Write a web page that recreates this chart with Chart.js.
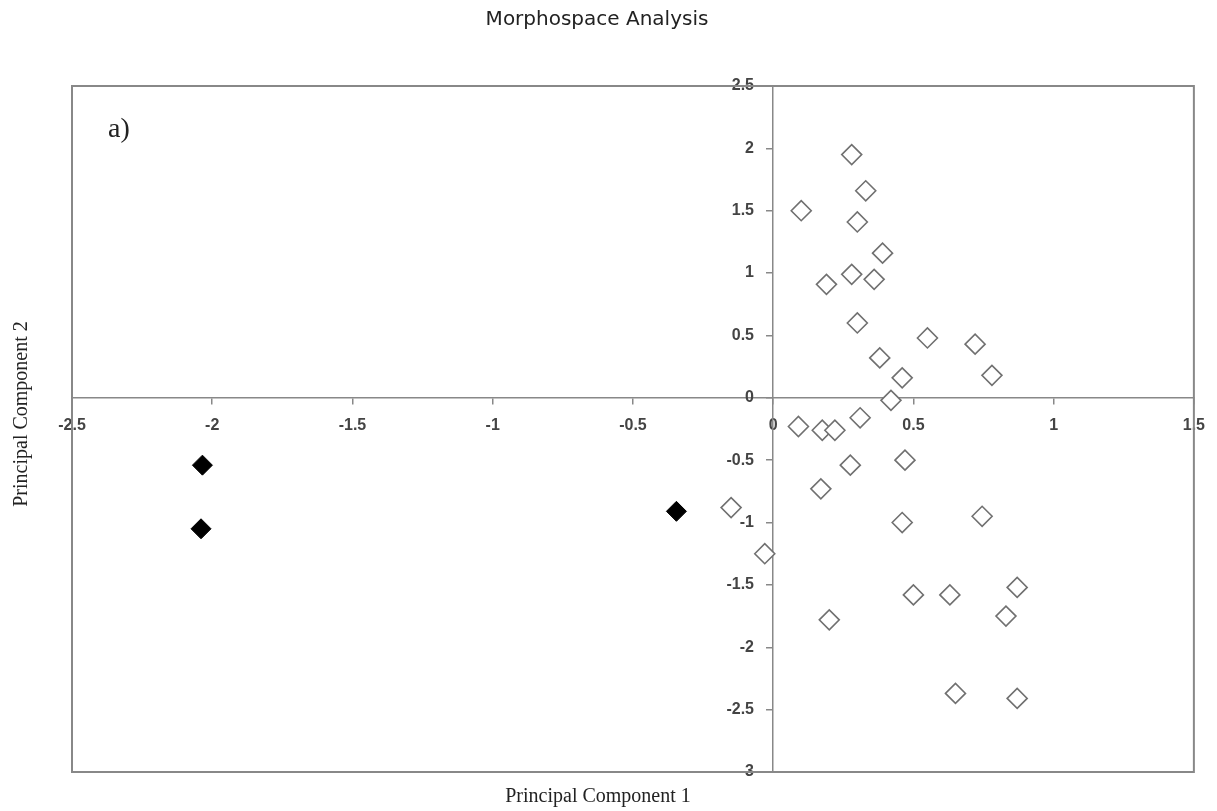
<!DOCTYPE html>
<html>
<head>
<meta charset="utf-8">
<title>Morphospace Analysis</title>
<script src="https://cdn.jsdelivr.net/npm/chart.js@4/dist/chart.umd.min.js"></script>
<style>
  html, body { margin: 0; padding: 0; background: #fff; }
  #wrap { width: 1217px; height: 811px; position: relative; }
</style>
</head>
<body>
<div id="wrap"><canvas id="morpho"></canvas></div>
<script>
// open diamonds (PC1, PC2)
const openX = [0.28, 0.33, 0.10, 0.30, 0.39, 0.28, 0.36, 0.19, 0.30, 0.55, 0.72, 0.38, 0.46, 0.78, 0.42,
               0.09, 0.175, 0.22, 0.31, 0.275, 0.47, 0.17, -0.15, 0.46, 0.745, -0.03,
               0.20, 0.50, 0.63, 0.87, 0.83, 0.65, 0.87];
const openY = [1.95, 1.66, 1.50, 1.41, 1.16, 0.99, 0.95, 0.91, 0.60, 0.48, 0.43, 0.32, 0.16, 0.18, -0.02,
               -0.23, -0.26, -0.26, -0.16, -0.54, -0.50, -0.73, -0.88, -1.00, -0.95, -1.25,
               -1.78, -1.58, -1.58, -1.52, -1.75, -2.37, -2.41];
// filled diamonds
const filledX = [-2.035, -2.04, -0.345];
const filledY = [-0.54, -1.05, -0.91];

const xTickMin = -2.5, xTickMax = 1.5, yTickMin = -3, yTickMax = 2.5, tickStep = 0.5;

const chartTitle = 'Morphospace Analysis';
const xTitle = 'Principal Component 1';
const yTitle = 'Principal Component 2';
const panelLabel = 'a)';

const toPoints = (xs, ys) => xs.map((x, i) => ({ x: x, y: ys[i] }));

const frameAndLabels = {
  id: 'frameAndLabels',
  beforeDatasetsDraw(chart) {
    const { ctx, chartArea: a } = chart;
    ctx.save();
    ctx.strokeStyle = '#888';
    ctx.lineWidth = 2;
    ctx.strokeRect(a.left, a.top, a.right - a.left, a.bottom - a.top);
    ctx.restore();
  },
  afterDraw(chart) {
    const ctx = chart.ctx;
    ctx.save();
    ctx.fillStyle = '#222';
    ctx.textAlign = 'center';
    ctx.textBaseline = 'middle';
    ctx.font = '20px "DejaVu Sans"';
    ctx.fillText(chartTitle, 597, 20);
    ctx.font = '20px "Liberation Serif"';
    ctx.fillText(xTitle, 598, 797);
    ctx.translate(22, 414);
    ctx.rotate(-Math.PI / 2);
    ctx.fillText(yTitle, 0, 0);
    ctx.restore();

    ctx.save();
    ctx.fillStyle = '#222';
    ctx.font = '28px "Liberation Serif"';
    ctx.textAlign = 'left';
    ctx.textBaseline = 'alphabetic';
    ctx.fillText(panelLabel, 108, 137);
    ctx.restore();
  }
};

const tickFont = { family: '"Liberation Sans", Arial, sans-serif', size: 16, weight: 'bold' };
const fmt = (v) => String(Number(v));

new Chart(document.getElementById('morpho'), {
  type: 'scatter',
  data: {
    datasets: [
      {
        label: 'open',
        data: toPoints(openX, openY),
        pointStyle: 'rectRot',
        pointRadius: 10,
        pointHoverRadius: 10,
        backgroundColor: '#fff',
        borderColor: '#707070',
        borderWidth: 1.6
      },
      {
        label: 'filled',
        data: toPoints(filledX, filledY),
        pointStyle: 'rectRot',
        pointRadius: 10,
        pointHoverRadius: 10,
        backgroundColor: '#000',
        borderColor: '#000',
        borderWidth: 1
      }
    ]
  },
  options: {
    responsive: true,
    maintainAspectRatio: false,
    animation: false,
    layout: { padding: { left: 72, right: 12, top: 86, bottom: 39 } },
    plugins: {
      legend: { display: false },
      tooltip: { enabled: false },
      title: { display: false }
    },
    scales: {
      x: {
        type: 'linear',
        min: xTickMin,
        max: xTickMax,
        position: { y: 0 },
        afterFit: (scale) => { scale.height = 0; },
        grid: { drawOnChartArea: false, drawTicks: true, tickLength: 6, color: '#888', lineWidth: 1.5 },
        border: { color: '#888', width: 1.5 },
        ticks: { stepSize: tickStep, padding: 12, color: '#444', font: tickFont, maxRotation: 0, autoSkip: false, callback: fmt }
      },
      y: {
        type: 'linear',
        min: yTickMin,
        max: yTickMax,
        position: { x: 0 },
        afterFit: (scale) => { scale.width = 0; },
        grid: { drawOnChartArea: false, drawTicks: true, tickLength: 6, color: '#888', lineWidth: 1.5 },
        border: { color: '#888', width: 1.5 },
        // labels sit right-aligned on the axis line, so pad them with a trailing em space
        ticks: { stepSize: tickStep, color: '#444', font: tickFont, autoSkip: false, callback: (v) => fmt(v) + '\u2003\u2009' }
      }
    }
  },
  plugins: [frameAndLabels]
});
</script>
</body>
</html>
